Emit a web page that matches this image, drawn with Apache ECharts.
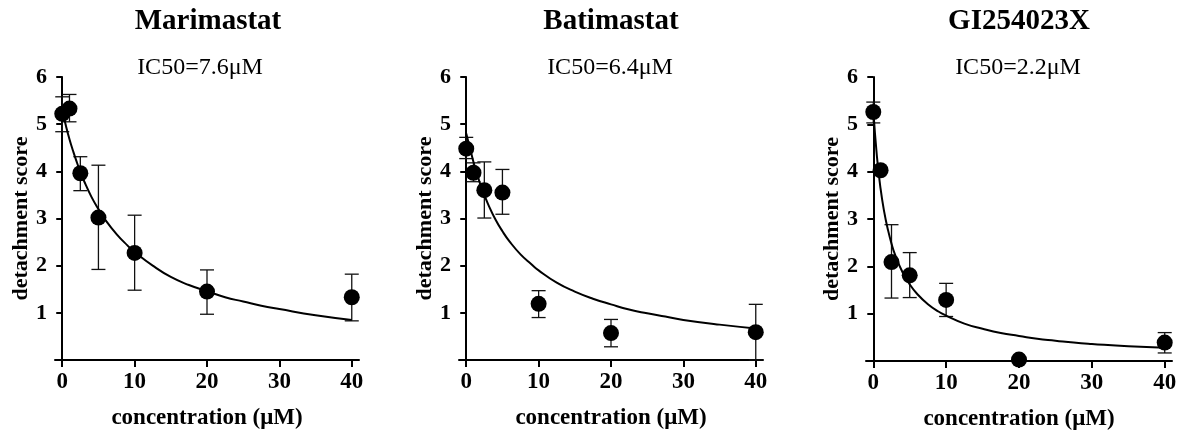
<!DOCTYPE html>
<html>
<head>
<meta charset="utf-8">
<script src="https://cdn.jsdelivr.net/npm/echarts@6/dist/echarts.min.js"></script>
<style>
html,body{margin:0;padding:0;background:#fff;}
#chart{width:1186px;height:436px;}
</style>
</head>
<body>
<div id="chart"></div>
<script>
// ---- data ----
const panelTitles = ['Marimastat', 'Batimastat', 'GI254023X'];
const ic50Labels = ['IC50=7.6\u03bcM', 'IC50=6.4\u03bcM', 'IC50=2.2\u03bcM'];
const xTicks = [0, 10, 20, 30, 40];
const conc = [0, 1, 2.5, 5, 10, 20, 40];

const mariMean = [5.22, 5.33, 3.96, 3.02, 2.27, 1.45, 1.33];
const mariLow  = [4.84, 5.05, 3.59, 1.92, 1.48, 0.97, 0.83];
const mariHigh = [5.58, 5.63, 4.31, 4.13, 3.07, 1.91, 1.82];

const batiMean = [4.48, 3.97, 3.60, 3.55, 1.19, 0.57, 0.59];
const batiLow  = [4.27, 3.78, 3.01, 3.09, 0.90, 0.28, 0.00];
const batiHigh = [4.72, 4.18, 4.20, 4.04, 1.47, 0.86, 1.18];

const giMean = [5.26, 4.03, 2.09, 1.81, 1.29, 0.03, 0.39];
const giLow  = [5.03, 4.03, 1.33, 1.34, 0.94, 0.03, 0.17];
const giHigh = [5.47, 4.03, 2.88, 2.29, 1.64, 0.03, 0.60];

// fitted curves, values
const curveX = [0, 0.5, 1, 1.5, 2, 2.5, 3, 4, 5, 6, 7.5, 9, 10, 12.5, 15, 17.5, 20, 22.5, 25, 27.5, 30, 35, 40];
const mariCurve = [5.30, 4.97, 4.68, 4.43, 4.20, 3.99, 3.80, 3.47, 3.20, 2.96, 2.67, 2.43, 2.29, 2.00, 1.76, 1.59, 1.46, 1.33, 1.24, 1.15, 1.08, 0.95, 0.85];
const batiCurve = [4.80, 4.50, 4.20, 3.94, 3.70, 3.50, 3.31, 2.99, 2.73, 2.51, 2.24, 2.03, 1.90, 1.64, 1.45, 1.30, 1.18, 1.07, 0.99, 0.92, 0.85, 0.75, 0.67];
const giCurve   = [5.30, 4.32, 3.64, 3.15, 2.78, 2.48, 2.24, 1.88, 1.62, 1.42, 1.20, 1.04, 0.96, 0.79, 0.68, 0.59, 0.53, 0.47, 0.43, 0.39, 0.36, 0.31, 0.28];

const means = [mariMean, batiMean, giMean];
const lows = [mariLow, batiLow, giLow];
const highs = [mariHigh, batiHigh, giHigh];
const curves = [mariCurve, batiCurve, giCurve];

// ---- layout ----
const FONT = '"Liberation Serif", "Times New Roman", serif';
const grids = [
  {left: 55, top: 77, width: 304, height: 283},
  {left: 459, top: 77, width: 304, height: 283},
  {left: 866, top: 77, width: 306, height: 284}
];
const titlePos = [[208, 22], [611, 22], [1019, 22]];
const icPos = [[200, 68], [610, 68], [1018, 68]];

const chart = echarts.init(document.getElementById('chart'));

const xAxes = [], yAxes = [], series = [], graphics = [];
for (let i = 0; i < 3; i++) {
  xAxes.push({
    type: 'value', gridIndex: i, min: -1, max: 41,
    name: 'concentration (\u03bcM)', nameLocation: 'middle', nameGap: 47,
    nameTextStyle: {fontFamily: FONT, fontWeight: 'bold', fontSize: 23, color: '#000'},
    axisLine: {onZero: true, lineStyle: {color: '#000', width: 2}},
    axisTick: {show: true, length: 7, lineStyle: {color: '#000', width: 2}, customValues: xTicks},
    axisLabel: {fontFamily: FONT, fontWeight: 'bold', fontSize: 23, color: '#000', margin: 11, customValues: xTicks},
    splitLine: {show: false}
  });
  yAxes.push({
    type: 'value', gridIndex: i, min: 0, max: 6, interval: 1,
    name: 'detachment score', nameLocation: 'middle', nameGap: 23, nameRotate: 90,
    nameTextStyle: {fontFamily: FONT, fontWeight: 'bold', fontSize: 22, color: '#000'},
    axisLine: {onZero: true, lineStyle: {color: '#000', width: 2}},
    axisTick: {show: true, length: 6, lineStyle: {color: '#000', width: 2}},
    axisLabel: {fontFamily: FONT, fontWeight: 'bold', fontSize: 22, color: '#000', margin: 8,
      formatter: v => (v === 0 ? '' : String(v))},
    splitLine: {show: false}
  });
  series.push({
    type: 'line', xAxisIndex: i, yAxisIndex: i, smooth: 0.5, showSymbol: false,
    data: curveX.map((x, k) => [x, curves[i][k]]),
    lineStyle: {color: '#000', width: 2}, z: 3, silent: true
  });
  series.push({
    type: 'custom', xAxisIndex: i, yAxisIndex: i, z: 2,
    encode: {x: 0, y: [1, 2]},
    data: conc.map((x, k) => [x, lows[i][k], highs[i][k]]),
    renderItem: (params, api) => {
      const x = api.value(0);
      const lo = api.coord([x, api.value(1)]);
      const hi = api.coord([x, api.value(2)]);
      const hw = 7;
      const st = {stroke: '#111', lineWidth: 1.3};
      return {type: 'group', children: [
        {type: 'line', shape: {x1: lo[0], y1: lo[1], x2: hi[0], y2: hi[1]}, style: st},
        {type: 'line', shape: {x1: hi[0] - hw, y1: hi[1], x2: hi[0] + hw, y2: hi[1]}, style: st},
        {type: 'line', shape: {x1: lo[0] - hw, y1: lo[1], x2: lo[0] + hw, y2: lo[1]}, style: st}
      ]};
    }
  });
  series.push({
    type: 'scatter', xAxisIndex: i, yAxisIndex: i, symbol: 'circle', symbolSize: 16,
    data: conc.map((x, k) => [x, means[i][k]]),
    itemStyle: {color: '#000', opacity: 1}, z: 4, clip: false
  });
  graphics.push({type: 'text', style: {text: panelTitles[i], x: titlePos[i][0], y: titlePos[i][1],
    align: 'center', verticalAlign: 'middle', fontFamily: FONT, fontWeight: 'bold', fontSize: 29, fill: '#000'}});
  graphics.push({type: 'text', style: {text: ic50Labels[i], x: icPos[i][0], y: icPos[i][1],
    align: 'center', verticalAlign: 'middle', fontFamily: FONT, fontSize: 24, fill: '#000'}});
}

chart.setOption({
  animation: false,
  backgroundColor: '#fff',
  grid: grids,
  xAxis: xAxes,
  yAxis: yAxes,
  series: series,
  graphic: graphics
});
</script>
</body>
</html>
